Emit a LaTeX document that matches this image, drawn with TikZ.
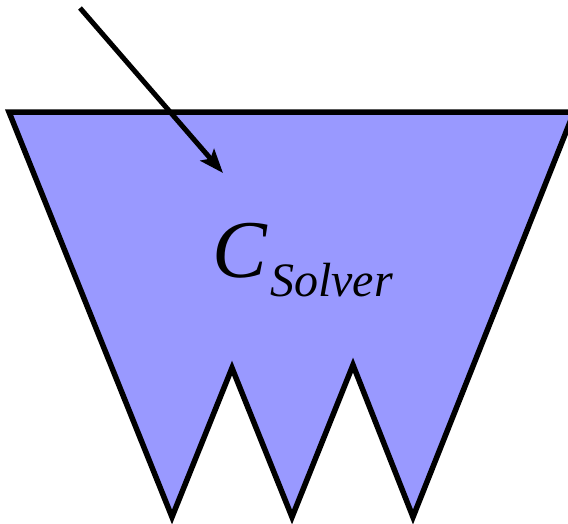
\documentclass[tikz,border=0pt]{standalone}
\usepackage{fontspec}
\newfontfamily\tmsit{Liberation Serif Italic}
\usetikzlibrary{arrows.meta}
\tikzset{
  solver/.style={fill={rgb,255:red,153;green,153;blue,255}, draw=black, line width=5.5pt, line join=miter},
  feed/.style={draw=black, line width=5pt, -{Stealth[length=24pt,width=18pt,inset=5pt]}},
  lbl/.style={inner sep=0pt}
}
\begin{document}
\begin{tikzpicture}[x=1pt,y=-1pt]
\useasboundingbox (0,0) rectangle (568,523);
\clip (0,0) rectangle (568,523);
\coordinate (tl) at (9,112);
\coordinate (tr) at (574,112);
\coordinate (b1) at (172,517);
\coordinate (p1) at (232,368);
\coordinate (b2) at (292,517);
\coordinate (p2) at (353,365);
\coordinate (b3) at (413,517);
\draw[solver] (tl) -- (b1) -- (p1) -- (b2) -- (p2) -- (b3) -- (tr) -- cycle;
\coordinate (src) at (80,8);
\coordinate (dst) at (223,173);
\draw[feed] (src) -- (dst);
\node[lbl, anchor=base west, font=\tmsit\fontsize{82}{82}\selectfont] (c) at (212,277) {C};
\node[lbl, anchor=base west, font=\tmsit\fontsize{48}{48}\selectfont] (s) at (270,296) {Solver};
\end{tikzpicture}
\end{document}
